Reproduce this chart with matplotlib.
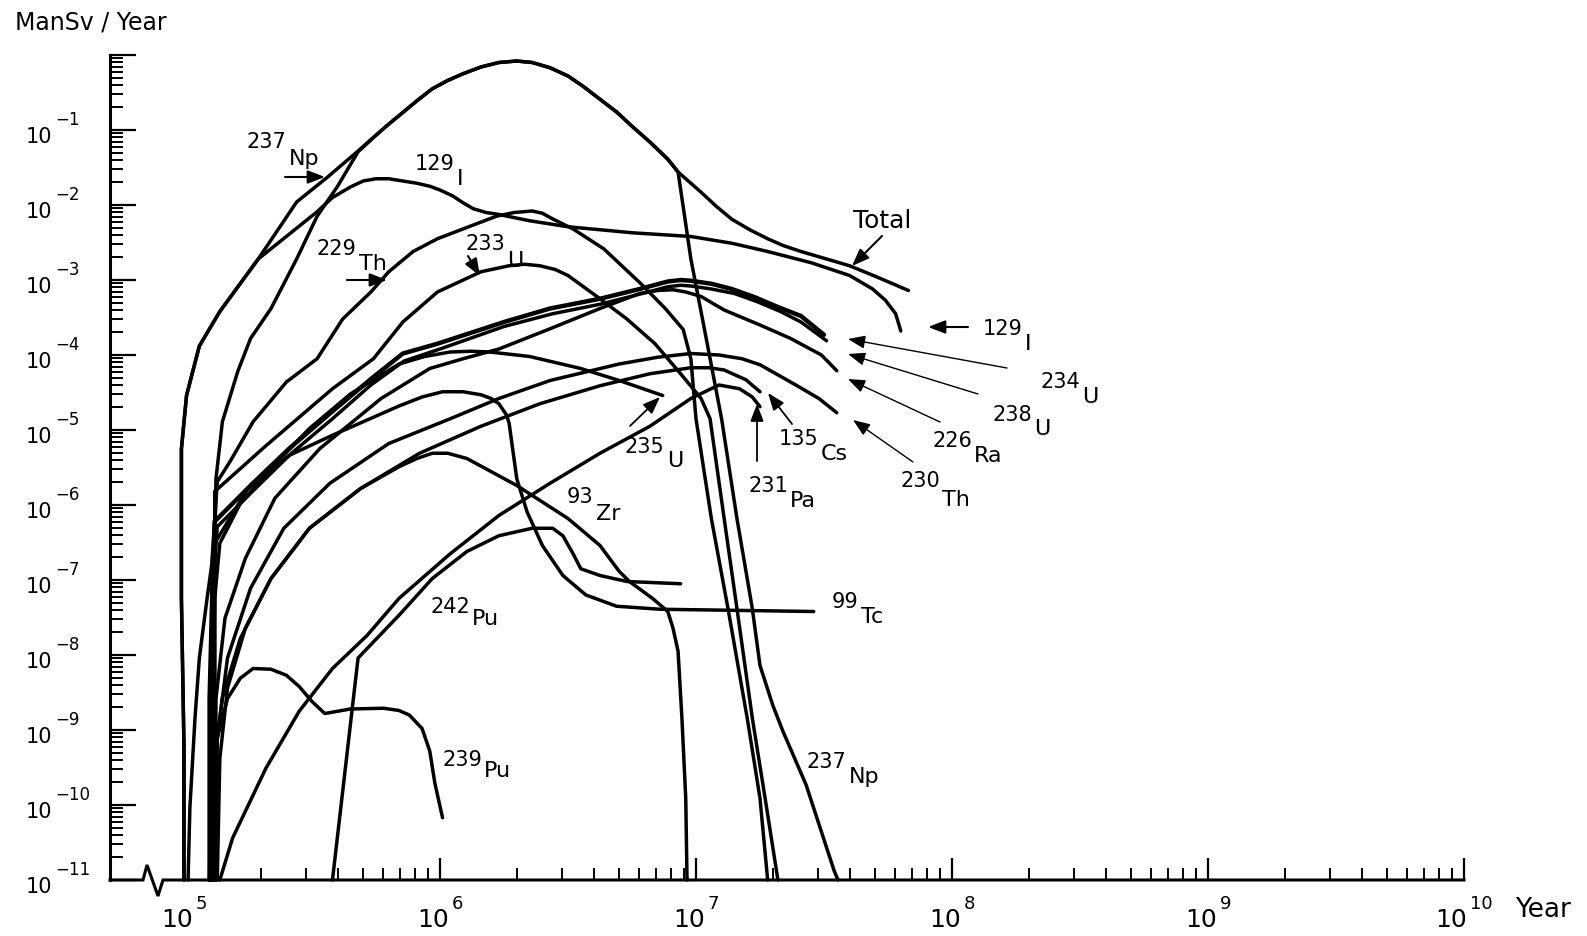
import numpy as np
import matplotlib
matplotlib.use('Agg')
import matplotlib.pyplot as plt
from matplotlib.ticker import FixedLocator

plt.rcParams['font.family'] = ['DejaVu Sans']

W, H = 1587, 937

# ---------------- data ----------------
# every series: log10(time in years), log10(dose in ManSv/year)
total_t = [5.00, 5.00, 4.99, 4.99, 5.01, 5.06, 5.14, 5.29, 5.375, 5.44, 5.56, 5.68, 5.74, 5.79, 5.85, 5.91, 5.97, 6.03, 6.09, 6.16, 6.23, 6.30, 6.36, 6.43, 6.50, 6.56, 6.625, 6.69, 6.75, 6.82, 6.89, 6.93, 7.02, 7.08, 7.14, 7.21, 7.28, 7.34, 7.41, 7.50, 7.60, 7.70, 7.83]
total_v = [-11.0, -9.24, -7.25, -5.25, -4.54, -3.88, -3.42, -2.72, -2.29, -1.96, -1.63, -1.28, -1.10, -0.95, -0.78, -0.61, -0.45, -0.34, -0.25, -0.16, -0.10, -0.08, -0.10, -0.17, -0.28, -0.42, -0.59, -0.76, -0.95, -1.16, -1.39, -1.56, -1.83, -2.02, -2.19, -2.33, -2.45, -2.54, -2.62, -2.71, -2.81, -2.95, -3.14]

i129_t = [5.00, 5.00, 4.99, 4.99, 5.01, 5.06, 5.14, 5.29, 5.52, 5.58, 5.65, 5.70, 5.75, 5.80, 5.855, 5.91, 5.96, 6.00, 6.05, 6.09, 6.13, 6.18, 6.22, 6.35, 6.50, 6.75, 6.98, 7.14, 7.28, 7.45, 7.60, 7.69, 7.74, 7.78, 7.80]
i129_v = [-11.0, -9.24, -7.25, -5.25, -4.54, -3.88, -3.42, -2.72, -2.09, -1.90, -1.76, -1.68, -1.65, -1.65, -1.68, -1.71, -1.75, -1.80, -1.88, -1.97, -2.05, -2.10, -2.12, -2.21, -2.29, -2.37, -2.42, -2.51, -2.62, -2.77, -2.94, -3.12, -3.27, -3.45, -3.68]

np237_t = [5.12, 5.12, 5.12, 5.125, 5.15, 5.21, 5.26, 5.34, 5.44, 5.52, 5.60, 5.68, 5.74, 5.79, 5.85, 5.91, 5.97, 6.03, 6.09, 6.16, 6.23, 6.30, 6.36, 6.43, 6.50, 6.56, 6.625, 6.69, 6.75, 6.82, 6.89, 6.93, 6.98, 7.04, 7.10, 7.16, 7.22, 7.25, 7.30, 7.34, 7.43, 7.54, 7.555]
np237_v = [-11.0, -8.58, -6.71, -5.65, -4.89, -4.22, -3.78, -3.38, -2.72, -2.15, -1.75, -1.29, -1.10, -0.95, -0.78, -0.61, -0.45, -0.34, -0.25, -0.16, -0.10, -0.08, -0.10, -0.17, -0.28, -0.42, -0.59, -0.76, -0.95, -1.16, -1.39, -1.56, -2.72, -3.78, -4.85, -6.18, -7.38, -8.14, -8.67, -9.02, -9.73, -10.88, -11.0]

th229_t = [5.10, 5.105, 5.11, 5.13, 5.18, 5.27, 5.40, 5.52, 5.62, 5.73, 5.80, 5.895, 5.99, 6.12, 6.22, 6.29, 6.36, 6.40, 6.44, 6.52, 6.64, 6.785, 6.88, 6.95, 6.98, 7.00, 7.06, 7.125, 7.20, 7.25, 7.28]
th229_v = [-11.0, -8.58, -6.71, -5.69, -5.42, -4.89, -4.36, -4.05, -3.52, -3.16, -2.89, -2.62, -2.45, -2.28, -2.15, -2.10, -2.08, -2.11, -2.185, -2.32, -2.585, -3.05, -3.38, -3.66, -4.05, -4.85, -6.18, -7.38, -8.84, -9.91, -11.0]

u233_t = [5.11, 5.12, 5.12, 5.12, 5.32, 5.58, 5.74, 5.855, 5.99, 6.16, 6.27, 6.33, 6.39, 6.45, 6.50, 6.625, 6.73, 6.84, 6.94, 7.02, 7.055, 7.11, 7.16, 7.22, 7.27, 7.32]
u233_v = [-11.0, -8.58, -6.71, -5.82, -5.21, -4.45, -4.05, -3.56, -3.16, -2.89, -2.81, -2.79, -2.81, -2.86, -2.94, -3.25, -3.52, -3.85, -4.25, -4.58, -4.85, -6.18, -7.38, -8.84, -9.91, -11.0]

u234_t = [5.10, 5.10, 5.11, 5.12, 5.26, 5.41, 5.57, 5.73, 5.855, 5.99, 6.25, 6.43, 6.625, 6.78, 6.89, 6.94, 6.98, 7.06, 7.14, 7.23, 7.32, 7.41, 7.50]
u234_v = [-11.0, -8.58, -7.25, -6.22, -5.74, -5.25, -4.78, -4.32, -3.98, -3.85, -3.56, -3.38, -3.25, -3.12, -3.02, -3.00, -3.01, -3.05, -3.12, -3.23, -3.36, -3.48, -3.73]

u238_t = [5.10, 5.105, 5.11, 5.13, 5.27, 5.42, 5.58, 5.73, 5.86, 6.00, 6.25, 6.44, 6.63, 6.79, 6.89, 6.94, 6.98, 7.06, 7.15, 7.24, 7.33, 7.41, 7.51]
u238_v = [-11.0, -8.58, -7.25, -6.29, -5.81, -5.31, -4.85, -4.40, -4.08, -3.92, -3.62, -3.45, -3.32, -3.18, -3.09, -3.07, -3.08, -3.12, -3.18, -3.29, -3.42, -3.56, -3.81]

ra226_t = [5.12, 5.125, 5.16, 5.24, 5.355, 5.53, 5.77, 5.96, 6.09, 6.23, 6.43, 6.625, 6.78, 6.85, 6.91, 6.96, 7.02, 7.11, 7.25, 7.37, 7.49, 7.55]
ra226_v = [-11.0, -8.58, -7.51, -6.71, -5.91, -5.25, -4.58, -4.18, -4.05, -3.92, -3.65, -3.38, -3.18, -3.14, -3.13, -3.16, -3.22, -3.40, -3.60, -3.78, -4.00, -4.21]

th230_t = [5.125, 5.13, 5.17, 5.26, 5.39, 5.57, 5.80, 6.04, 6.23, 6.43, 6.70, 6.85, 6.98, 7.09, 7.18, 7.25, 7.39, 7.48, 7.55]
th230_v = [-11.0, -9.11, -8.04, -7.11, -6.31, -5.71, -5.18, -4.85, -4.58, -4.34, -4.12, -4.03, -3.98, -4.00, -4.05, -4.13, -4.40, -4.58, -4.77]

cs135_t = [5.13, 5.14, 5.17, 5.24, 5.34, 5.49, 5.69, 5.92, 6.16, 6.39, 6.625, 6.82, 6.98, 7.05, 7.11, 7.195, 7.25]
cs135_v = [-11.0, -9.38, -8.44, -7.64, -6.98, -6.31, -5.78, -5.31, -4.95, -4.65, -4.41, -4.25, -4.17, -4.17, -4.20, -4.33, -4.49]

pa231_t = [5.14, 5.19, 5.32, 5.45, 5.58, 5.715, 5.84, 6.04, 6.23, 6.43, 6.625, 6.82, 6.98, 7.09, 7.17, 7.22, 7.25]
pa231_v = [-11.0, -10.44, -9.51, -8.75, -8.18, -7.74, -7.245, -6.65, -6.14, -5.71, -5.31, -4.95, -4.58, -4.40, -4.45, -4.56, -4.69]

u235_t = [5.105, 5.11, 5.12, 5.14, 5.22, 5.34, 5.49, 5.65, 5.84, 5.94, 6.04, 6.12, 6.195, 6.35, 6.55, 6.70, 6.87]
u235_v = [-11.0, -8.58, -7.25, -6.51, -5.98, -5.51, -4.98, -4.52, -4.12, -4.02, -3.96, -3.95, -3.96, -4.02, -4.18, -4.34, -4.54]

zr93_t = [5.11, 5.11, 5.15, 5.22, 5.34, 5.49, 5.69, 5.84, 5.91, 5.97, 6.03, 6.105, 6.30, 6.50, 6.625, 6.70, 6.74, 6.83, 6.89, 6.91, 6.93, 6.945, 6.96, 6.965]
zr93_v = [-11.0, -9.64, -8.57, -7.78, -6.98, -6.31, -5.78, -5.49, -5.38, -5.31, -5.31, -5.38, -5.74, -6.18, -6.54, -6.885, -7.02, -7.245, -7.42, -7.64, -7.95, -8.84, -9.91, -11.0]

tc99_t = [5.016, 5.023, 5.043, 5.06, 5.09, 5.12, 5.25, 5.41, 5.58, 5.84, 5.93, 6.01, 6.09, 6.16, 6.20, 6.23, 6.26, 6.27, 6.30, 6.34, 6.40, 6.48, 6.57, 6.69, 6.86, 7.46]
tc99_v = [-11.0, -10.04, -8.84, -8.04, -7.25, -6.51, -5.78, -5.34, -5.07, -4.68, -4.56, -4.49, -4.49, -4.53, -4.58, -4.65, -4.80, -4.91, -5.65, -6.09, -6.54, -6.94, -7.20, -7.35, -7.39, -7.42]

pu242_t = [5.58, 5.68, 5.84, 5.97, 6.105, 6.23, 6.36, 6.44, 6.48, 6.52, 6.55, 6.625, 6.73, 6.94]
pu242_v = [-11.0, -8.04, -7.47, -6.98, -6.62, -6.41, -6.31, -6.31, -6.41, -6.65, -6.85, -6.94, -7.02, -7.05]

pu239_t = [5.11, 5.11, 5.13, 5.17, 5.22, 5.27, 5.34, 5.40, 5.45, 5.50, 5.55, 5.60, 5.65, 5.78, 5.84, 5.88, 5.93, 5.96, 5.98, 6.01]
pu239_v = [-11.0, -9.91, -9.11, -8.58, -8.31, -8.18, -8.19, -8.27, -8.42, -8.62, -8.78, -8.75, -8.72, -8.71, -8.74, -8.80, -8.98, -9.28, -9.71, -10.17]

y_tick_exps = list(range(-11, 0))        # labelled decades on the y axis
x_tick_exps = list(range(5, 11))         # labelled decades on the x axis

series = [
    (total_t, total_v), (i129_t, i129_v), (np237_t, np237_v), (th229_t, th229_v),
    (u233_t, u233_v), (u234_t, u234_v), (u238_t, u238_v), (ra226_t, ra226_v),
    (th230_t, th230_v), (cs135_t, cs135_v), (pa231_t, pa231_v), (u235_t, u235_v),
    (zr93_t, zr93_v), (tc99_t, tc99_v), (pu242_t, pu242_v), (pu239_t, pu239_v),
]

# ---------------- figure ----------------
fig = plt.figure(figsize=(W / 100, H / 100), dpi=100)
X0, X1, YT, YB = 110, 1464, 56, 881
ax = fig.add_axes([X0 / W, 1 - YB / H, (X1 - X0) / W, (YB - YT) / H])
ax.set_xscale('log')
ax.set_yscale('log')
ax.set_xlim(10 ** 4.711, 1e10)
ax.set_ylim(1e-11, 1.0)

for t, v in series:
    lw = 3.2 if t is u234_t else 2.5
    ax.plot(10 ** np.asarray(t), 10 ** np.asarray(v), color='black', lw=lw,
            solid_joinstyle='round', solid_capstyle='round', clip_on=False)

for s in ['top', 'right', 'bottom']:
    ax.spines[s].set_visible(False)
ax.spines['left'].set_linewidth(2.2)

# x axis line with break mark
fx = lambda px: (px - X0) / (X1 - X0)
fy = lambda d: d / (YB - YT)
ax.plot([0, fx(143), fx(147), fx(158), fx(163), 1], [0, 0, fy(15), -fy(16), 0, 0],
        transform=ax.transAxes, color='black', lw=2.2, clip_on=False,
        solid_joinstyle='miter')

ax.yaxis.set_major_locator(FixedLocator([10.0 ** e for e in range(-11, 1)]))
ax.yaxis.set_minor_locator(FixedLocator([m * 10.0 ** e for e in range(-11, 0) for m in range(2, 10)]))
ax.xaxis.set_major_locator(FixedLocator([10.0 ** e for e in x_tick_exps]))
ax.xaxis.set_minor_locator(FixedLocator([m * 10.0 ** e for e in range(5, 10) for m in range(2, 10)]))
ax.tick_params(which='both', direction='in', labelbottom=False, labelleft=False, color='black')
ax.tick_params(axis='y', which='major', length=19, width=1.6)
ax.tick_params(axis='y', which='minor', length=9, width=1.4)
ax.tick_params(axis='x', which='major', length=16, width=1.6)
ax.tick_params(axis='x', which='minor', length=9, width=1.4)

r = fig.canvas.get_renderer()


def two_part(x, y1, s1, size1, s2, size2, dy2, gap=2, center=False):
    """first text with baseline y1 (px from top); second text right of it, baseline y1+dy2"""
    t1 = fig.text(x / W, 1 - y1 / H, s1, fontsize=size1, ha='left', va='baseline')
    b1 = t1.get_window_extent(r)
    t2 = fig.text((b1.x1 + gap) / W, 1 - (y1 + dy2) / H, s2, fontsize=size2, ha='left', va='baseline')
    if center:
        b2 = t2.get_window_extent(r)
        width = b2.x1 - b1.x0
        left = x - width / 2
        t1.set_x(left / W)
        t2.set_x((left + b1.width + gap) / W)
    return t1, t2


# y tick labels
for e in y_tick_exps:
    py = 56 - 75 * e
    two_part(26, py + 12, '10', 15, '\u2212' + str(-e), 12, -18, gap=3)

# x tick labels
for e in x_tick_exps:
    px = X0 + (e - 4.711) / (10 - 4.711) * (X1 - X0)
    two_part(px, 927, '10', 18, str(e), 13, -18, gap=3, center=True)

fig.text(15 / W, 1 - 30 / H, 'ManSv / Year', fontsize=17, ha='left', va='baseline')
fig.text(1515 / W, 1 - 917 / H, 'Year', fontsize=19, ha='left', va='baseline')
fig.text(853 / W, 1 - 228 / H, 'Total', fontsize=18, ha='left', va='baseline')

# isotope labels: (mass, element, left px, mass-number baseline px, drop of element baseline)
iso_labels = [
    ('237', 'Np', 247, 148, 17), ('129', 'I', 415, 170, 15), ('229', 'Th', 317, 255, 15),
    ('233', 'U', 465, 250, 17), ('129', 'I', 983, 335, 15), ('234', 'U', 1040, 388, 15),
    ('238', 'U', 993, 421, 14), ('226', 'Ra', 932, 447, 15), ('230', 'Th', 900, 487, 19),
    ('135', 'Cs', 779, 445, 15), ('231', 'Pa', 748, 492, 15), ('235', 'U', 625, 453, 14),
    ('93', 'Zr', 567, 503, 17), ('99', 'Tc', 832, 608, 15), ('242', 'Pu', 430, 613, 12),
    ('239', 'Pu', 442, 766, 11), ('237', 'Np', 807, 768, 15),
]
for m, el, x, yb, d in iso_labels:
    two_part(x, yb, m, 15, el, 16, d, gap=2)

# pointer arrows (tail -> tip), pixel positions from top-left
arrows = [
    ((285, 178), (325, 178), 1.5), ((347, 281), (387, 281), 1.5), ((468, 257), (480, 277), 1.5),
    ((882, 237), (852, 267), 1.5), ((968, 328), (928, 328), 1.5),
    ((1007, 369), (848, 340), 1.0), ((978, 395), (848, 355), 1.0), ((940, 423), (848, 380), 1.0),
    ((913, 463), (853, 421), 1.0), ((792, 425), (768, 394), 1.3), ((757, 462), (757, 405), 1.3),
    ((630, 427), (660, 398), 1.3),
]
for (tx, ty), (hx, hy), lw in arrows:
    fig.add_artist(matplotlib.patches.FancyArrowPatch(
        (tx, H - ty), (hx, H - hy), transform=None,
        arrowstyle='-|>,head_length=0.65,head_width=0.25', mutation_scale=16,
        color='black', lw=lw, shrinkA=0, shrinkB=0))

fig.savefig('out.png', dpi=100)
